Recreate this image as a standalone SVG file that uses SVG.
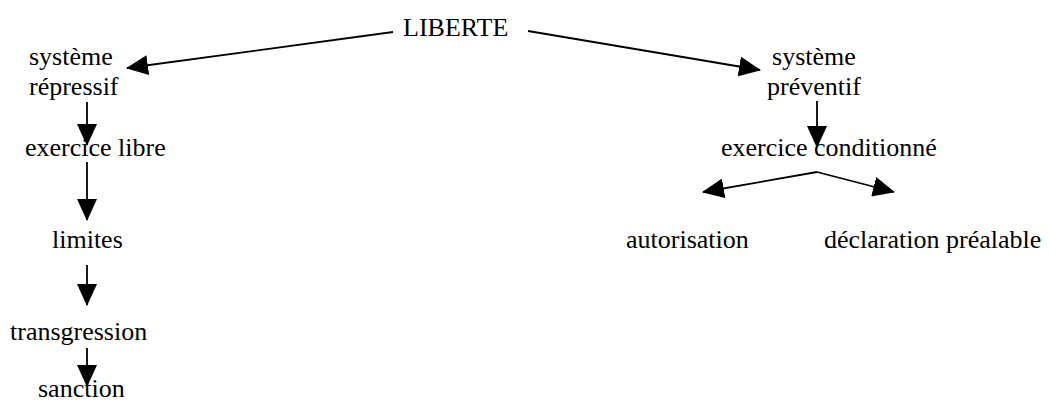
<svg xmlns="http://www.w3.org/2000/svg" width="1049" height="403" viewBox="0 0 1049 403">
<style>
text{font-family:"Liberation Serif","Times New Roman",serif;font-size:26px;fill:#000}
.c line{stroke:#000;stroke-width:1.8;marker-end:url(#ah)}
</style>
<defs>
<marker id="ah" markerUnits="userSpaceOnUse" viewBox="0 0 22 20" refX="21" refY="10" markerWidth="22" markerHeight="20" orient="auto">
<path d="M0,0 L22,10 L0,20 z" fill="#000"/>
</marker>
</defs>
<rect width="1049" height="403" fill="#fff"/>
<g id="liberte"><text x="403" y="36">LIBERTE</text></g>
<g id="systeme-repressif"><text x="29" y="65">système</text><text x="29" y="95">répressif</text></g>
<g id="exercice-libre"><text x="25" y="156">exercice libre</text></g>
<g id="limites"><text x="52" y="248">limites</text></g>
<g id="transgression"><text x="10" y="340">transgression</text></g>
<g id="sanction"><text x="38" y="397">sanction</text></g>
<g id="systeme-preventif"><text x="814" y="65" text-anchor="middle">système</text><text x="814" y="95" text-anchor="middle">préventif</text></g>
<g id="exercice-conditionne"><text x="721" y="156">exercice conditionné</text></g>
<g id="autorisation"><text x="626" y="248">autorisation</text></g>
<g id="declaration"><text x="824" y="248">déclaration préalable</text></g>
<g id="connectors" class="c">
<line x1="393" y1="32" x2="127" y2="68"/>
<line x1="528" y1="31" x2="760" y2="70"/>
<line x1="87" y1="102" x2="87" y2="145"/>
<line x1="817" y1="101" x2="817" y2="147"/>
<line x1="87" y1="162" x2="87" y2="220"/>
<line x1="87" y1="265" x2="87" y2="305"/>
<line x1="87" y1="348" x2="87" y2="386"/>
<line x1="817" y1="172" x2="703" y2="192"/>
<line x1="817" y1="172" x2="894" y2="192"/>
</g>
</svg>
